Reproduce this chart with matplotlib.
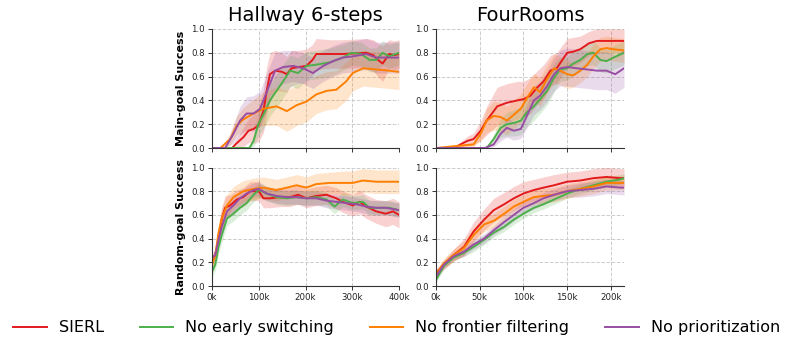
import matplotlib
matplotlib.use("Agg")
import matplotlib.pyplot as plt
import numpy as np

# ---------------- data (x in thousands of steps) ----------------
methods = ["SIERL", "No early switching", "No frontier filtering", "No prioritization"]
colors = ["#e41a1c", "#4daf4a", "#ff7f00", "#984ea3"]
titles = ["Hallway 6-steps", "FourRooms"]
row_labels = ["Main-goal Success", "Random-goal Success"]
hall_xticks = [0, 100, 200, 300, 400]
four_xticks = [0, 50, 100, 150, 200]
yticks = [0.0, 0.2, 0.4, 0.6, 0.8, 1.0]

# Hallway, main goal
hm_red_x = [0, 43, 50, 67, 78, 89, 99, 110, 117, 124, 135, 150, 160, 170, 185, 202, 215, 223, 252, 280, 330, 345, 355, 365, 379, 390, 400]
hm_red_y = [0, 0, 0.03, 0.09, 0.145, 0.16, 0.19, 0.31, 0.48, 0.62, 0.65, 0.64, 0.62, 0.67, 0.68, 0.69, 0.74, 0.79, 0.79, 0.79, 0.8, 0.78, 0.74, 0.71, 0.79, 0.78, 0.79]
hm_red_hw = [0, 0, 0.03, 0.08, 0.1, 0.12, 0.14, 0.18, 0.2, 0.18, 0.17, 0.16, 0.15, 0.15, 0.14, 0.14, 0.13, 0.13, 0.12, 0.12, 0.12, 0.13, 0.14, 0.15, 0.12, 0.12, 0.12]
hm_green_x = [0, 80, 89, 99, 110, 124, 138, 152, 167, 184, 202, 223, 252, 280, 298, 319, 337, 351, 365, 379, 400]
hm_green_y = [0, 0, 0.06, 0.2, 0.28, 0.4, 0.48, 0.56, 0.65, 0.63, 0.69, 0.7, 0.72, 0.76, 0.8, 0.79, 0.74, 0.74, 0.8, 0.77, 0.8]
hm_green_hw = [0, 0, 0.05, 0.1, 0.12, 0.13, 0.14, 0.14, 0.13, 0.13, 0.12, 0.12, 0.12, 0.11, 0.1, 0.1, 0.1, 0.1, 0.1, 0.1, 0.1]
hm_orange_x = [0, 18, 39, 53, 67, 89, 110, 138, 160, 181, 202, 223, 245, 266, 287, 301, 323, 351, 379, 400]
hm_orange_y = [0, 0, 0.075, 0.19, 0.24, 0.29, 0.33, 0.35, 0.31, 0.36, 0.39, 0.45, 0.48, 0.49, 0.56, 0.63, 0.67, 0.66, 0.65, 0.64]
hm_orange_hw = [0, 0, 0.05, 0.08, 0.1, 0.12, 0.14, 0.16, 0.17, 0.17, 0.17, 0.16, 0.16, 0.16, 0.16, 0.15, 0.15, 0.15, 0.15, 0.15]
hm_purple_x = [0, 28, 46, 60, 74, 89, 103, 117, 135, 152, 174, 195, 216, 238, 259, 280, 301, 330, 351, 372, 400]
hm_purple_y = [0, 0, 0.12, 0.23, 0.29, 0.29, 0.33, 0.47, 0.65, 0.68, 0.69, 0.67, 0.63, 0.69, 0.73, 0.76, 0.77, 0.79, 0.76, 0.76, 0.76]
hm_purple_hw = [0, 0, 0.08, 0.12, 0.14, 0.15, 0.15, 0.16, 0.15, 0.14, 0.13, 0.13, 0.13, 0.13, 0.13, 0.13, 0.13, 0.13, 0.13, 0.13, 0.13]

# FourRooms, main goal
fm_red_x = [0, 20, 28, 36, 43, 51, 58, 70, 81, 93, 100, 108, 116, 123, 131, 138, 150, 157, 165, 175, 184, 215]
fm_red_y = [0, 0, 0.03, 0.06, 0.075, 0.145, 0.23, 0.35, 0.38, 0.4, 0.41, 0.44, 0.51, 0.56, 0.65, 0.67, 0.8, 0.81, 0.83, 0.88, 0.9, 0.9]
fm_red_hw = [0, 0, 0.02, 0.04, 0.05, 0.08, 0.12, 0.16, 0.16, 0.16, 0.15, 0.15, 0.14, 0.14, 0.13, 0.13, 0.12, 0.12, 0.11, 0.1, 0.1, 0.1]
fm_green_x = [0, 58, 66, 74, 81, 89, 97, 104, 112, 119, 127, 135, 142, 150, 157, 165, 173, 180, 188, 195, 203, 215]
fm_green_y = [0, 0, 0.075, 0.17, 0.2, 0.21, 0.23, 0.3, 0.35, 0.41, 0.48, 0.59, 0.66, 0.67, 0.71, 0.74, 0.79, 0.8, 0.74, 0.73, 0.76, 0.8]
fm_green_hw = [0, 0, 0.04, 0.08, 0.1, 0.11, 0.12, 0.12, 0.12, 0.12, 0.12, 0.12, 0.1, 0.1, 0.1, 0.1, 0.1, 0.1, 0.1, 0.1, 0.1, 0.1]
fm_orange_x = [0, 28, 43, 51, 58, 66, 74, 81, 89, 97, 104, 112, 119, 127, 135, 142, 150, 157, 165, 173, 180, 188, 195, 203, 215]
fm_orange_y = [0, 0.02, 0.03, 0.12, 0.23, 0.27, 0.26, 0.23, 0.28, 0.33, 0.42, 0.51, 0.47, 0.58, 0.67, 0.65, 0.62, 0.61, 0.65, 0.7, 0.77, 0.83, 0.84, 0.83, 0.82]
fm_orange_hw = [0, 0.01, 0.02, 0.06, 0.1, 0.12, 0.12, 0.12, 0.12, 0.12, 0.12, 0.12, 0.12, 0.12, 0.12, 0.12, 0.12, 0.1, 0.1, 0.1, 0.1, 0.1, 0.1, 0.1, 0.1]
fm_purple_x = [0, 56, 66, 74, 81, 89, 97, 104, 112, 119, 127, 135, 142, 150, 161, 173, 184, 195, 205, 211, 215]
fm_purple_y = [0, 0, 0.03, 0.12, 0.17, 0.145, 0.16, 0.27, 0.4, 0.44, 0.52, 0.62, 0.67, 0.68, 0.67, 0.66, 0.65, 0.65, 0.62, 0.65, 0.67]
fm_purple_hw = [0, 0, 0.02, 0.06, 0.08, 0.08, 0.08, 0.1, 0.12, 0.12, 0.13, 0.14, 0.15, 0.16, 0.16, 0.16, 0.16, 0.16, 0.16, 0.16, 0.16]

# Hallway, random goal
hr_red_x = [0, 7, 14, 21, 28, 39, 53, 67, 82, 100, 110, 124, 145, 167, 184, 202, 223, 245, 266, 280, 301, 316, 330, 351, 372, 387, 400]
hr_red_y = [0.2, 0.26, 0.4, 0.57, 0.66, 0.68, 0.73, 0.75, 0.8, 0.8, 0.74, 0.74, 0.75, 0.75, 0.77, 0.74, 0.76, 0.77, 0.74, 0.71, 0.68, 0.71, 0.67, 0.63, 0.61, 0.63, 0.6]
hr_red_hw = [0.05, 0.06, 0.08, 0.1, 0.1, 0.09, 0.08, 0.08, 0.08, 0.08, 0.08, 0.08, 0.08, 0.08, 0.08, 0.08, 0.08, 0.08, 0.09, 0.09, 0.09, 0.1, 0.1, 0.1, 0.11, 0.11, 0.11]
hr_green_x = [0, 7, 14, 21, 32, 46, 60, 74, 89, 100, 117, 138, 160, 181, 202, 223, 245, 262, 280, 301, 323, 337, 358, 379, 400]
hr_green_y = [0.12, 0.18, 0.33, 0.43, 0.57, 0.61, 0.66, 0.7, 0.77, 0.81, 0.78, 0.75, 0.74, 0.75, 0.74, 0.75, 0.73, 0.67, 0.73, 0.7, 0.71, 0.66, 0.66, 0.66, 0.64]
hr_green_hw = [0.04, 0.05, 0.06, 0.06, 0.06, 0.06, 0.06, 0.06, 0.06, 0.06, 0.06, 0.06, 0.06, 0.06, 0.06, 0.06, 0.06, 0.06, 0.06, 0.06, 0.06, 0.06, 0.06, 0.06, 0.06]
hr_orange_x = [0, 7, 14, 21, 32, 46, 67, 89, 110, 138, 160, 181, 202, 223, 252, 280, 301, 323, 351, 379, 400]
hr_orange_y = [0.18, 0.26, 0.45, 0.57, 0.68, 0.75, 0.8, 0.82, 0.83, 0.81, 0.83, 0.85, 0.83, 0.86, 0.87, 0.87, 0.87, 0.89, 0.88, 0.88, 0.88]
hr_orange_hw = [0.04, 0.06, 0.08, 0.09, 0.09, 0.09, 0.09, 0.09, 0.09, 0.09, 0.09, 0.09, 0.09, 0.09, 0.09, 0.1, 0.1, 0.1, 0.1, 0.1, 0.1]
hr_purple_x = [0, 7, 14, 21, 32, 46, 60, 74, 89, 100, 117, 138, 160, 181, 202, 223, 245, 266, 287, 308, 330, 351, 372, 400]
hr_purple_y = [0.24, 0.26, 0.39, 0.5, 0.63, 0.68, 0.74, 0.78, 0.81, 0.82, 0.78, 0.76, 0.75, 0.75, 0.74, 0.74, 0.72, 0.71, 0.7, 0.69, 0.67, 0.66, 0.66, 0.64]
hr_purple_hw = [0.04, 0.05, 0.06, 0.06, 0.06, 0.06, 0.06, 0.06, 0.06, 0.06, 0.06, 0.06, 0.06, 0.06, 0.06, 0.06, 0.06, 0.06, 0.06, 0.06, 0.06, 0.06, 0.06, 0.06]

# FourRooms, random goal
fr_x = [0, 9, 20, 32, 43, 55, 66, 78, 89, 100, 112, 123, 135, 150, 165, 180, 195, 211, 215]
fr_red_y = [0.11, 0.18, 0.26, 0.33, 0.46, 0.56, 0.64, 0.69, 0.74, 0.78, 0.81, 0.83, 0.85, 0.88, 0.89, 0.91, 0.92, 0.91, 0.91]
fr_red_hw = [0.03, 0.04, 0.05, 0.07, 0.08, 0.09, 0.1, 0.1, 0.1, 0.1, 0.09, 0.09, 0.09, 0.08, 0.08, 0.08, 0.08, 0.08, 0.08]
fr_green_y = [0.05, 0.17, 0.24, 0.28, 0.33, 0.39, 0.45, 0.5, 0.56, 0.61, 0.66, 0.69, 0.73, 0.78, 0.82, 0.85, 0.88, 0.9, 0.91]
fr_green_hw = [0.02, 0.03, 0.03, 0.03, 0.04, 0.04, 0.04, 0.04, 0.04, 0.04, 0.04, 0.04, 0.04, 0.04, 0.04, 0.04, 0.04, 0.04, 0.04]
fr_orange_y = [0.1, 0.19, 0.26, 0.32, 0.43, 0.52, 0.55, 0.61, 0.67, 0.71, 0.75, 0.76, 0.77, 0.8, 0.82, 0.84, 0.87, 0.87, 0.87]
fr_orange_hw = [0.03, 0.04, 0.05, 0.06, 0.06, 0.06, 0.06, 0.06, 0.06, 0.06, 0.06, 0.06, 0.06, 0.06, 0.06, 0.06, 0.06, 0.06, 0.06]
fr_purple_y = [0.08, 0.18, 0.25, 0.29, 0.35, 0.4, 0.47, 0.54, 0.6, 0.66, 0.7, 0.74, 0.77, 0.8, 0.81, 0.82, 0.84, 0.83, 0.83]
fr_purple_hw = [0.02, 0.03, 0.03, 0.04, 0.04, 0.04, 0.04, 0.05, 0.05, 0.05, 0.05, 0.05, 0.05, 0.05, 0.06, 0.06, 0.06, 0.06, 0.06]

panels = {
    (0, 0): [(hm_red_x, hm_red_y, hm_red_hw), (hm_green_x, hm_green_y, hm_green_hw),
             (hm_orange_x, hm_orange_y, hm_orange_hw), (hm_purple_x, hm_purple_y, hm_purple_hw)],
    (0, 1): [(fm_red_x, fm_red_y, fm_red_hw), (fm_green_x, fm_green_y, fm_green_hw),
             (fm_orange_x, fm_orange_y, fm_orange_hw), (fm_purple_x, fm_purple_y, fm_purple_hw)],
    (1, 0): [(hr_red_x, hr_red_y, hr_red_hw), (hr_green_x, hr_green_y, hr_green_hw),
             (hr_orange_x, hr_orange_y, hr_orange_hw), (hr_purple_x, hr_purple_y, hr_purple_hw)],
    (1, 1): [(fr_x, fr_red_y, fr_red_hw), (fr_x, fr_green_y, fr_green_hw),
             (fr_x, fr_orange_y, fr_orange_hw), (fr_x, fr_purple_y, fr_purple_hw)],
}
xlims = [400, 215]
xticks_list = [hall_xticks, four_xticks]

# ---------------- figure ----------------
W, H = 793, 349
fig = plt.figure(figsize=(W / 100, H / 100), dpi=100)
col_lr = [(212, 399), (436, 624)]
row_tb = [(29, 148), (167.5, 286)]

spine_col = "#333333"
handles = []
for r in range(2):
    for c in range(2):
        l, rr = col_lr[c]
        t, b = row_tb[r]
        ax = fig.add_axes([l / W, 1 - b / H, (rr - l) / W, (b - t) / H])
        for i, (x, y, hw) in enumerate(panels[(r, c)]):
            x = np.array(x) * 1000.0
            y = np.array(y)
            hw = np.array(hw)
            lo = np.clip(y - hw, 0, 1)
            hi = np.clip(y + hw, 0, 1)
            ax.fill_between(x, lo, hi, color=colors[i], alpha=0.2, linewidth=0)
            ln, = ax.plot(x, y, color=colors[i], linewidth=1.4, label=methods[i])
            if r == 0 and c == 0:
                handles.append(ln)
        ax.set_xlim(0, xlims[c] * 1000)
        ax.set_ylim(0, 1.0)
        ax.set_yticks(yticks)
        ax.set_yticklabels([f"{v:.1f}" for v in yticks])
        ax.set_xticks([v * 1000 for v in xticks_list[c]])
        if r == 1:
            ax.set_xticklabels([f"{v}k" for v in xticks_list[c]])
        else:
            ax.set_xticklabels([])
        ax.grid(True, linestyle="--", color="#cccccc", linewidth=0.7)
        ax.set_axisbelow(True)
        for s in ["top", "right"]:
            ax.spines[s].set_visible(False)
        for s in ["left", "bottom"]:
            ax.spines[s].set_color(spine_col)
            ax.spines[s].set_linewidth(0.8)
        ax.tick_params(labelsize=6.2, colors=spine_col, labelcolor="#222222",
                       length=3, width=0.7, pad=2)
        if r == 0:
            ax.set_title(titles[c], fontsize=14, pad=6)
        if c == 0:
            ax.set_ylabel(row_labels[r], fontsize=8, fontweight="bold", labelpad=4)

fig.legend(handles, methods, loc="center", bbox_to_anchor=(0.5, 1 - 327.7 / H), ncol=4,
           frameon=False, fontsize=11.5, handlelength=2.1, handletextpad=0.75,
           columnspacing=2.25)

fig.savefig("out.png", dpi=100)
